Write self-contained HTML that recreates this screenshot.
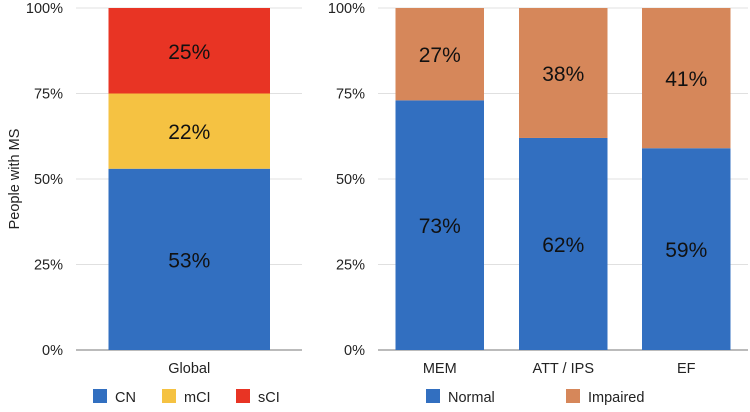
<!DOCTYPE html>
<html><head><meta charset="utf-8"><style>
body{margin:0;background:#fff;font-family:"Liberation Sans",sans-serif}
</style></head><body>
<svg id="c" width="750" height="407" xmlns="http://www.w3.org/2000/svg" font-family="Liberation Sans, sans-serif"></svg>
<script>
const ticks=[0,25,50,75,100];
const globalCats=["Global"];
const cnVals=[53], mciVals=[22], sciVals=[25];
const domainCats=["MEM","ATT / IPS","EF"];
const normalVals=[73,62,59];
const impairedVals=[27,38,41];
const svg=document.getElementById('c');
const NS='http://www.w3.org/2000/svg';
function el(t,a,p){const e=document.createElementNS(NS,t);for(const k in a)e.setAttribute(k,a[k]);(p||svg).appendChild(e);return e;}
const y0=350,y1=8;
function y(v){return y0-(y0-y1)*v/100;}
function panel(name,xL,xR,labX,cats,series,colors,barXs,barW){
  const g=el('g',{});
  
  
  ticks.forEach(t=>{
    const l=el('line',{x1:xL,x2:xR,y1:y(t),y2:y(t),stroke:t===0?'#777':'#e0e0e0','stroke-width':1},g);
    
    
    const tx=el('text',{x:labX,y:y(t)+5,'text-anchor':'end','font-size':14.5,fill:'#222'},g);
    tx.textContent=t+'%';
    
    
  });
  cats.forEach((c,i)=>{
    let acc=0;
    series.forEach((s,j)=>{
      const v=s[i];
      const r=el('rect',{x:barXs[i],y:y(acc+v),width:barW,height:y(acc)-y(acc+v),fill:colors[j]},g);
      
      
      const t=el('text',{x:barXs[i]+barW/2,y:(y(acc)+y(acc+v))/2+8,'text-anchor':'middle','font-size':21,fill:'#111'},g);
      t.textContent=v+'%';
      
      
      acc+=v;
    });
    const ct=el('text',{x:barXs[i]+barW/2,y:373,'text-anchor':'middle','font-size':14.5,fill:'#222'},g);
    ct.textContent=c;
    
    
  });
}
panel('global',76,302,63,globalCats,[cnVals,mciVals,sciVals],['#326fc0','#f5c242','#e83424'],[108.5],161.5);
panel('domain',378,748,365,domainCats,[normalVals,impairedVals],['#326fc0','#d6875a'],[395.5,519,642],88.5);
const yt=el('text',{x:19,y:179,'text-anchor':'middle','font-size':14.5,fill:'#222',transform:'rotate(-90 19 179)'});
yt.textContent='People with MS';


const legend=[["CN",'#326fc0',93],["mCI",'#f5c242',162],["sCI",'#e83424',236],["Normal",'#326fc0',426],["Impaired",'#d6875a',566]];
legend.forEach(([n,c,x])=>{
  const g=el('g',{});
  
  
  el('rect',{x:x,y:389,width:14,height:14,fill:c},g);
  const t=el('text',{x:x+22,y:402,'font-size':14.5,fill:'#222'},g);
  t.textContent=n;
});
</script>
</body></html>
